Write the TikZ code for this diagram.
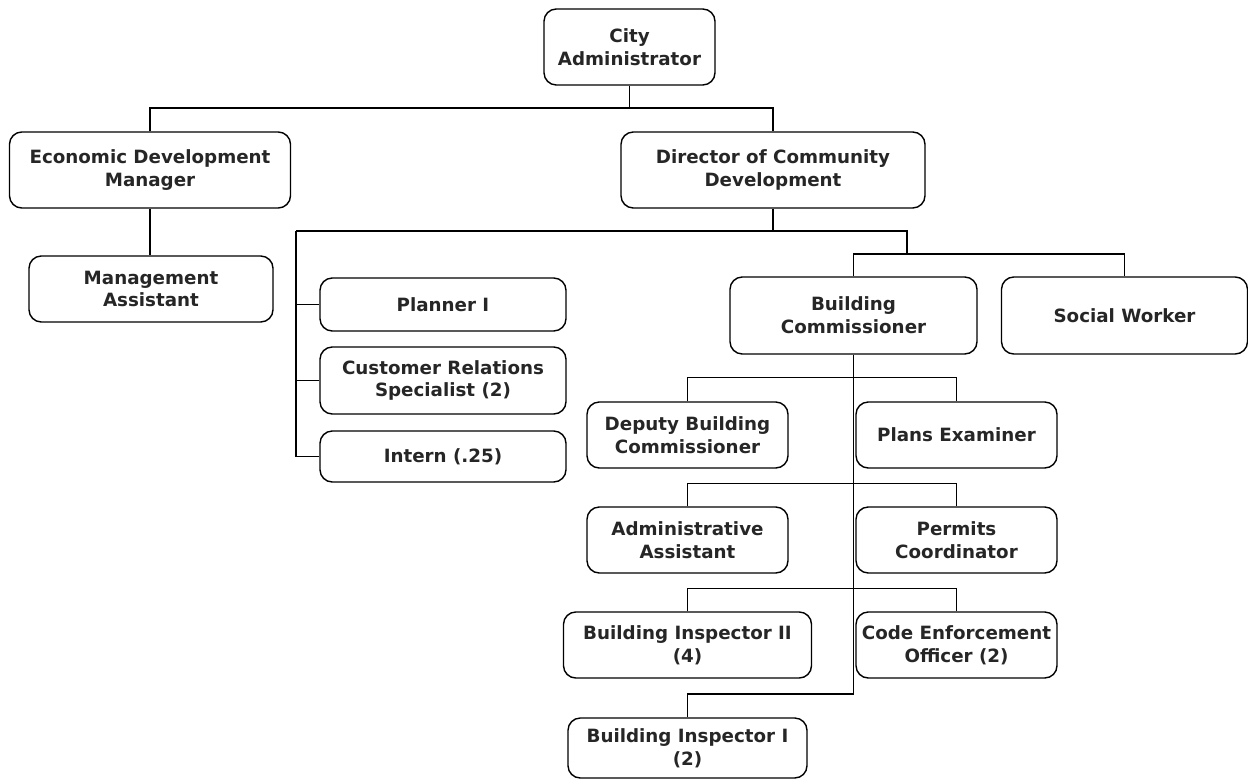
\documentclass[tikz,border=0pt]{standalone}
\usepackage{fontspec}
\setmainfont{DejaVu Sans}
\usepackage{tikz}

\begin{document}
\begin{tikzpicture}[line width=0.8pt,
  orgbox/.style={draw,rounded corners=7pt,align=center,inner sep=0pt,
    text=black!85,font=\bfseries\fontsize{10.4}{13}\selectfont}]
  \useasboundingbox (0,0) rectangle (24.96,-15.62);
  \node[orgbox,minimum width=3.42cm,minimum height=1.52cm] (ca) at (12.59,-0.94) {City\\Administrator};
  \node[orgbox,minimum width=5.62cm,minimum height=1.52cm] (edm) at (3.00,-3.40) {Economic Development\\Manager};
  \node[orgbox,minimum width=6.08cm,minimum height=1.52cm] (dcd) at (15.46,-3.40) {Director of Community\\Development};
  \node[orgbox,minimum width=4.88cm,minimum height=1.32cm] (ma) at (3.02,-5.78) {Management\\Assistant};
  \node[orgbox,minimum width=4.92cm,minimum height=1.06cm] (pl) at (8.86,-6.09) {Planner I};
  \node[orgbox,minimum width=4.92cm,minimum height=1.34cm] (crs) at (8.86,-7.61) {Customer Relations\\Specialist (2)};
  \node[orgbox,minimum width=4.92cm,minimum height=1.02cm] (int) at (8.86,-9.13) {Intern (.25)};
  \node[orgbox,minimum width=4.94cm,minimum height=1.54cm] (bc) at (17.07,-6.31) {Building\\Commissioner};
  \node[orgbox,minimum width=4.92cm,minimum height=1.54cm] (sw) at (22.49,-6.31) {Social Worker};
  \node[orgbox,minimum width=4.02cm,minimum height=1.32cm] (dbc) at (13.75,-8.70) {Deputy Building\\Commissioner};
  \node[orgbox,minimum width=4.02cm,minimum height=1.32cm] (pe) at (19.13,-8.70) {Plans Examiner};
  \node[orgbox,minimum width=4.02cm,minimum height=1.32cm] (aa) at (13.75,-10.80) {Administrative\\Assistant};
  \node[orgbox,minimum width=4.02cm,minimum height=1.32cm] (pc) at (19.13,-10.80) {Permits\\Coordinator};
  \node[orgbox,minimum width=4.96cm,minimum height=1.32cm] (bi2) at (13.75,-12.90) {Building Inspector II\\(4)};
  \node[orgbox,minimum width=4.02cm,minimum height=1.32cm] (ceo) at (19.13,-12.90) {Code Enforcement\\Officer (2)};
  \node[orgbox,minimum width=4.78cm,minimum height=1.20cm] (bi1) at (13.75,-14.96) {Building Inspector I\\(2)};

  \coordinate (bus1) at (12.59,-2.16);
  \coordinate (lft) at (5.92,-4.62);
  \coordinate (rgt) at (18.14,-4.62);
  \coordinate (bus3) at (18.14,-5.08);
  \coordinate (spine) at (17.07,-13.88);
  \draw (ca.south) -- (bus1);
  \draw (edm.north) |- (bus1) -| (dcd.north);
  \draw (edm.south) -- (edm.south |- ma.north);
  \draw (dcd.south) -- (dcd.south |- lft);
  \draw (lft) -- (rgt) -- (bus3);
  \draw (bc.north) |- (bus3) -| (sw.north);
  \draw (lft) |- (int.west);
  \draw (lft |- pl.west) -- (pl.west);
  \draw (lft |- crs.west) -- (crs.west);
  \draw (bc.south) -- (spine) -| (bi1.north);
  \draw (dbc.north) -- ++(0,0.48) -| (pe.north);
  \draw (aa.north) -- ++(0,0.46) -| (pc.north);
  \draw (bi2.north) -- ++(0,0.46) -| (ceo.north);
\end{tikzpicture}
\end{document}
